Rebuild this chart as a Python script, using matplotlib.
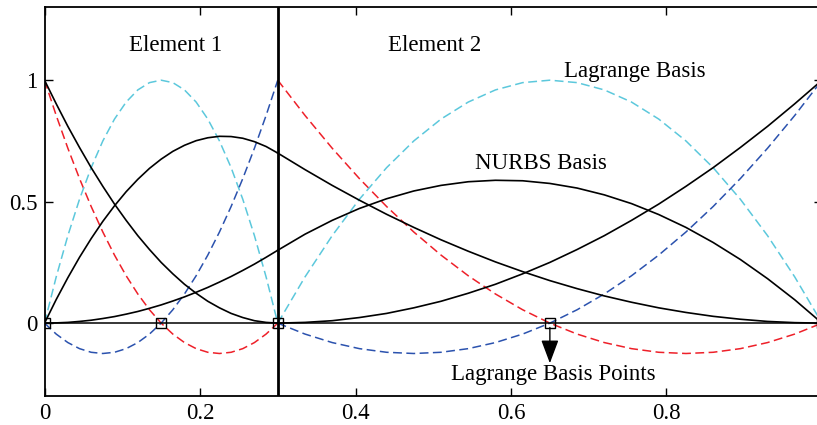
import numpy as np
import matplotlib
matplotlib.use("Agg")
import matplotlib.pyplot as plt

plt.rcParams["font.family"] = ["Liberation Serif", "DejaVu Serif"]
plt.rcParams["font.size"] = 16.5

# sample positions in each element
x_el1 = [0, 0.015, 0.03, 0.045, 0.06, 0.075, 0.09, 0.105, 0.12, 0.135, 0.15,
         0.165, 0.18, 0.195, 0.21, 0.225, 0.24, 0.255, 0.27, 0.285, 0.3]
x_el2 = [0.3, 0.335, 0.37, 0.405, 0.44, 0.475, 0.51, 0.545, 0.58, 0.615, 0.65,
         0.685, 0.72, 0.755, 0.79, 0.825, 0.86, 0.895, 0.93, 0.965, 1.0]

# Lagrange basis (same shape on both elements)
lag_first = [1, 0.855, 0.72, 0.595, 0.48, 0.375, 0.28, 0.195, 0.12, 0.055, 0,
             -0.045, -0.08, -0.105, -0.12, -0.125, -0.12, -0.105, -0.08, -0.045, 0]
lag_mid = [0, 0.19, 0.36, 0.51, 0.64, 0.75, 0.84, 0.91, 0.96, 0.99, 1.0,
           0.99, 0.96, 0.91, 0.84, 0.75, 0.64, 0.51, 0.36, 0.19, 0]
lag_last = [0, -0.045, -0.08, -0.105, -0.12, -0.125, -0.12, -0.105, -0.08, -0.045, 0,
            0.055, 0.12, 0.195, 0.28, 0.375, 0.48, 0.595, 0.72, 0.855, 1]

# NURBS basis
n0_el1 = [1, 0.903, 0.81, 0.723, 0.64, 0.563, 0.49, 0.423, 0.36, 0.303, 0.25,
          0.203, 0.16, 0.123, 0.09, 0.063, 0.04, 0.023, 0.01, 0.003, 0]
n1_el1 = [0, 0.097, 0.187, 0.271, 0.348, 0.419, 0.483, 0.541, 0.592, 0.637, 0.675,
          0.707, 0.732, 0.751, 0.763, 0.769, 0.768, 0.761, 0.747, 0.727, 0.7]
n2_el1 = [0, 0.001, 0.003, 0.007, 0.012, 0.019, 0.027, 0.037, 0.048, 0.061, 0.075,
          0.091, 0.108, 0.127, 0.147, 0.169, 0.192, 0.217, 0.243, 0.271, 0.3]
n1_el2 = [0.7, 0.632, 0.567, 0.506, 0.448, 0.394, 0.343, 0.296, 0.252, 0.212, 0.175,
          0.142, 0.112, 0.086, 0.063, 0.044, 0.028, 0.016, 0.007, 0.002, 0]
n2_el2 = [0.3, 0.366, 0.423, 0.472, 0.512, 0.544, 0.567, 0.582, 0.588, 0.586, 0.575,
          0.556, 0.528, 0.492, 0.447, 0.394, 0.332, 0.262, 0.183, 0.096, 0]
n3_el2 = [0, 0.003, 0.01, 0.023, 0.04, 0.063, 0.09, 0.123, 0.16, 0.203, 0.25,
          0.303, 0.36, 0.423, 0.49, 0.563, 0.64, 0.723, 0.81, 0.903, 1]

basis_points = [0, 0.15, 0.3, 0.65, 1.0]
element_boundary = 0.3

red = "#ee2029"
cyan = "#5cc8dc"
blue = "#2b52ae"
dash = (0, (5.8, 2.9))

fig = plt.figure(figsize=(8.17, 4.25), dpi=100)
ax = fig.add_axes([0.0545, 0.0682, 0.9516, 0.9146])

for xs in (x_el1, x_el2):
    ax.plot(xs, lag_first, color=red, lw=1.1, linestyle=dash)
    ax.plot(xs, lag_mid, color=cyan, lw=1.1, linestyle=dash)
    ax.plot(xs, lag_last, color=blue, lw=1.1, linestyle=dash)

for xs, ys in [(x_el1, n0_el1), (x_el1, n1_el1), (x_el1, n2_el1),
               (x_el2, n1_el2), (x_el2, n2_el2), (x_el2, n3_el2)]:
    ax.plot(xs, ys, color="black", lw=1.2)

ax.axhline(0, color="black", lw=1.1)
ax.axvline(element_boundary, color="black", lw=2.0)
ax.plot(basis_points, [0] * len(basis_points), "s", ms=7, mfc="none",
        mec="black", mew=1.0, zorder=5)

ax.annotate("", xy=(0.65, -0.165), xytext=(0.65, -0.018),
            arrowprops=dict(arrowstyle="-|>,head_length=0.8,head_width=0.3",
                            color="black", lw=1.0, shrinkA=0, shrinkB=0,
                            mutation_scale=18))

ax.text(0.168, 1.144, "Element 1", ha="center", va="center")
ax.text(0.502, 1.144, "Element 2", ha="center", va="center")
ax.text(0.759, 1.036, "Lagrange Basis", ha="center", va="center")
ax.text(0.639, 0.658, "NURBS Basis", ha="center", va="center")
ax.text(0.655, -0.21, "Lagrange Basis Points", ha="center", va="center")

ax.set_xlim(0, 1)
ax.set_ylim(-0.3, 1.3)
ax.set_xticks([0, 0.2, 0.4, 0.6, 0.8])
ax.set_xticklabels(["0", "0.2", "0.4", "0.6", "0.8"])
ax.set_yticks([0, 0.5, 1])
ax.set_yticklabels(["0", "0.5", "1"])
ax.tick_params(direction="in", top=True, right=True, length=5.5, width=1.0, pad=5)
for s in ax.spines.values():
    s.set_linewidth(1.3)

fig.savefig("out.png", dpi=100)
